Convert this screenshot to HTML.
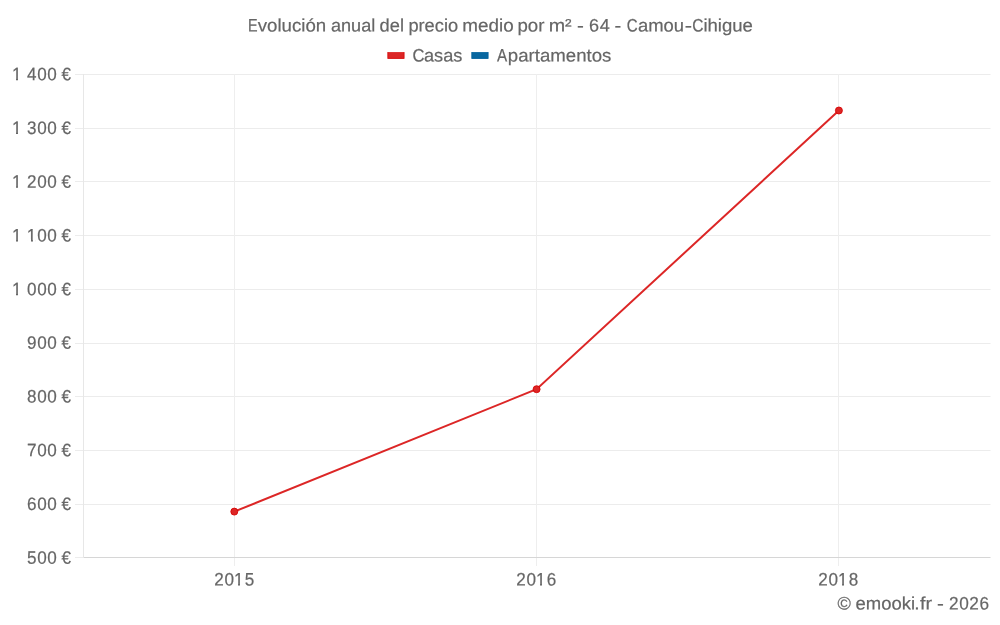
<!DOCTYPE html>
<html lang="es"><head><meta charset="utf-8"><title>Evolución anual del precio medio por m² - 64 - Camou-Cihigue</title>
<style>
html,body{margin:0;padding:0;background:#fff;}
body{width:1000px;height:625px;overflow:hidden;}
svg{display:block;will-change:transform;}
text{font-family:"Liberation Sans",sans-serif;fill:#666;font-size:18px;stroke:#666;stroke-width:0.2px;}
</style></head><body>
<svg width="1000" height="625" viewBox="0 0 1000 625">
<rect x="0" y="0" width="1000" height="625" fill="#fff"/>
<g shape-rendering="crispEdges">
<rect x="75" y="74" width="8" height="1" fill="#ececec"/>
<rect x="83" y="74" width="907" height="1" fill="#ececec"/>
<rect x="990" y="74" width="1" height="1" fill="#f5f5f5"/>
<rect x="75" y="128" width="8" height="1" fill="#ececec"/>
<rect x="83" y="128" width="907" height="1" fill="#ececec"/>
<rect x="990" y="128" width="1" height="1" fill="#f5f5f5"/>
<rect x="75" y="181" width="8" height="1" fill="#ececec"/>
<rect x="83" y="181" width="907" height="1" fill="#ececec"/>
<rect x="990" y="181" width="1" height="1" fill="#f5f5f5"/>
<rect x="75" y="235" width="8" height="1" fill="#ececec"/>
<rect x="83" y="235" width="907" height="1" fill="#ececec"/>
<rect x="990" y="235" width="1" height="1" fill="#f5f5f5"/>
<rect x="75" y="289" width="8" height="1" fill="#ececec"/>
<rect x="83" y="289" width="907" height="1" fill="#ececec"/>
<rect x="990" y="289" width="1" height="1" fill="#f5f5f5"/>
<rect x="75" y="343" width="8" height="1" fill="#ececec"/>
<rect x="83" y="343" width="907" height="1" fill="#ececec"/>
<rect x="990" y="343" width="1" height="1" fill="#f5f5f5"/>
<rect x="75" y="396" width="8" height="1" fill="#ececec"/>
<rect x="83" y="396" width="907" height="1" fill="#ececec"/>
<rect x="990" y="396" width="1" height="1" fill="#f5f5f5"/>
<rect x="75" y="450" width="8" height="1" fill="#ececec"/>
<rect x="83" y="450" width="907" height="1" fill="#ececec"/>
<rect x="990" y="450" width="1" height="1" fill="#f5f5f5"/>
<rect x="75" y="504" width="8" height="1" fill="#ececec"/>
<rect x="83" y="504" width="907" height="1" fill="#ececec"/>
<rect x="990" y="504" width="1" height="1" fill="#f5f5f5"/>
<rect x="75" y="557" width="8" height="1" fill="#ececec"/>
<rect x="83" y="557" width="907" height="1" fill="#d6d6d6"/>
<rect x="990" y="557" width="1" height="1" fill="#eaeaea"/>
<rect x="83" y="74" width="1" height="484" fill="#e7e7e7"/>
<rect x="234" y="74" width="1" height="483" fill="#eeeeee"/>
<rect x="234" y="558" width="1" height="8" fill="#eeeeee"/>
<rect x="536" y="74" width="1" height="483" fill="#eeeeee"/>
<rect x="536" y="558" width="1" height="8" fill="#eeeeee"/>
<rect x="838" y="74" width="1" height="483" fill="#eeeeee"/>
<rect x="838" y="558" width="1" height="8" fill="#eeeeee"/>
</g>
<text y="80.30" rotate="0.05"><tspan x="12.08" textLength="10.11" lengthAdjust="spacingAndGlyphs" letter-spacing="0.63">1</tspan> <tspan x="27.10" textLength="30.33" lengthAdjust="spacingAndGlyphs" letter-spacing="0.63">400</tspan> <tspan x="61.39" textLength="10.11" lengthAdjust="spacingAndGlyphs" letter-spacing="0.63">€</tspan></text>
<text y="134.01" rotate="0.05"><tspan x="12.08" textLength="10.11" lengthAdjust="spacingAndGlyphs" letter-spacing="0.63">1</tspan> <tspan x="27.10" textLength="30.33" lengthAdjust="spacingAndGlyphs" letter-spacing="0.63">300</tspan> <tspan x="61.39" textLength="10.11" lengthAdjust="spacingAndGlyphs" letter-spacing="0.63">€</tspan></text>
<text y="187.72" rotate="0.05"><tspan x="12.08" textLength="10.11" lengthAdjust="spacingAndGlyphs" letter-spacing="0.63">1</tspan> <tspan x="27.10" textLength="30.33" lengthAdjust="spacingAndGlyphs" letter-spacing="0.63">200</tspan> <tspan x="61.39" textLength="10.11" lengthAdjust="spacingAndGlyphs" letter-spacing="0.63">€</tspan></text>
<text y="241.43" rotate="0.05"><tspan x="12.08" textLength="10.11" lengthAdjust="spacingAndGlyphs" letter-spacing="0.63">1</tspan> <tspan x="26.65" textLength="10.11" lengthAdjust="spacingAndGlyphs" letter-spacing="0.63">1</tspan><tspan x="37.21" textLength="20.22" lengthAdjust="spacingAndGlyphs" letter-spacing="0.63">00</tspan> <tspan x="61.39" textLength="10.11" lengthAdjust="spacingAndGlyphs" letter-spacing="0.63">€</tspan></text>
<text y="295.14" rotate="0.05"><tspan x="12.08" textLength="10.11" lengthAdjust="spacingAndGlyphs" letter-spacing="0.63">1</tspan> <tspan x="27.10" textLength="30.33" lengthAdjust="spacingAndGlyphs" letter-spacing="0.63">000</tspan> <tspan x="61.39" textLength="10.11" lengthAdjust="spacingAndGlyphs" letter-spacing="0.63">€</tspan></text>
<text y="348.86" rotate="0.05"><tspan x="27.10" textLength="30.33" lengthAdjust="spacingAndGlyphs" letter-spacing="0.63">900</tspan> <tspan x="61.39" textLength="10.11" lengthAdjust="spacingAndGlyphs" letter-spacing="0.63">€</tspan></text>
<text y="402.57" rotate="0.05"><tspan x="27.10" textLength="30.33" lengthAdjust="spacingAndGlyphs" letter-spacing="0.63">800</tspan> <tspan x="61.39" textLength="10.11" lengthAdjust="spacingAndGlyphs" letter-spacing="0.63">€</tspan></text>
<text y="456.28" rotate="0.05"><tspan x="27.10" textLength="30.33" lengthAdjust="spacingAndGlyphs" letter-spacing="0.63">700</tspan> <tspan x="61.39" textLength="10.11" lengthAdjust="spacingAndGlyphs" letter-spacing="0.63">€</tspan></text>
<text y="509.99" rotate="0.05"><tspan x="27.10" textLength="30.33" lengthAdjust="spacingAndGlyphs" letter-spacing="0.63">600</tspan> <tspan x="61.39" textLength="10.11" lengthAdjust="spacingAndGlyphs" letter-spacing="0.63">€</tspan></text>
<text y="563.70" rotate="0.05"><tspan x="27.10" textLength="30.33" lengthAdjust="spacingAndGlyphs" letter-spacing="0.63">500</tspan> <tspan x="61.39" textLength="10.11" lengthAdjust="spacingAndGlyphs" letter-spacing="0.63">€</tspan></text>
<text y="585.5" rotate="0.05"><tspan x="214.34" textLength="20.22" lengthAdjust="spacingAndGlyphs" letter-spacing="0.63">20</tspan><tspan x="234.11" textLength="10.11" lengthAdjust="spacingAndGlyphs" letter-spacing="0.63">1</tspan><tspan x="244.67" textLength="10.11" lengthAdjust="spacingAndGlyphs" letter-spacing="0.63">5</tspan></text>
<text y="585.5" rotate="0.05"><tspan x="516.34" textLength="20.22" lengthAdjust="spacingAndGlyphs" letter-spacing="0.63">20</tspan><tspan x="536.11" textLength="10.11" lengthAdjust="spacingAndGlyphs" letter-spacing="0.63">1</tspan><tspan x="546.67" textLength="10.11" lengthAdjust="spacingAndGlyphs" letter-spacing="0.63">6</tspan></text>
<text y="585.5" rotate="0.05"><tspan x="818.34" textLength="20.22" lengthAdjust="spacingAndGlyphs" letter-spacing="0.63">20</tspan><tspan x="838.11" textLength="10.11" lengthAdjust="spacingAndGlyphs" letter-spacing="0.63">1</tspan><tspan x="848.67" textLength="10.11" lengthAdjust="spacingAndGlyphs" letter-spacing="0.63">8</tspan></text>
<text y="31.5" rotate="0.05"><tspan x="248.05" textLength="9.60" lengthAdjust="spacingAndGlyphs">E</tspan><tspan x="257.72" textLength="68.51" lengthAdjust="spacingAndGlyphs">volución</tspan> <tspan x="330.94" textLength="44.29" lengthAdjust="spacingAndGlyphs">anual</tspan> <tspan x="379.64" textLength="24.37" lengthAdjust="spacingAndGlyphs">del</tspan> <tspan x="408.40" textLength="49.73" lengthAdjust="spacingAndGlyphs">precio</tspan> <tspan x="462.29" textLength="51.40" lengthAdjust="spacingAndGlyphs">medio</tspan> <tspan x="517.45" textLength="26.97" lengthAdjust="spacingAndGlyphs">por</tspan> <tspan x="548.65" textLength="22.96" lengthAdjust="spacingAndGlyphs">m²</tspan> <tspan x="576.97" textLength="6.88" lengthAdjust="spacingAndGlyphs">-</tspan> <tspan x="589.00" textLength="21.37" lengthAdjust="spacingAndGlyphs" letter-spacing="0.63">64</tspan> <tspan x="614.61" textLength="6.71" lengthAdjust="spacingAndGlyphs">-</tspan> <tspan x="626.73" textLength="10.91" lengthAdjust="spacingAndGlyphs">C</tspan><tspan x="638.00" textLength="46.09" lengthAdjust="spacingAndGlyphs">amou</tspan><tspan x="684.72" textLength="7.32" lengthAdjust="spacingAndGlyphs">-</tspan><tspan x="692.30" textLength="11.22" lengthAdjust="spacingAndGlyphs">C</tspan><tspan x="703.42" textLength="49.52" lengthAdjust="spacingAndGlyphs">ihigue</tspan></text>
<text y="61.6" rotate="0.05"><tspan x="412.40" textLength="11.97" lengthAdjust="spacingAndGlyphs">C</tspan><tspan x="424.01" textLength="38.45" lengthAdjust="spacingAndGlyphs">asas</tspan></text>
<text y="61.6" rotate="0.05"><tspan x="497.00" textLength="10.20" lengthAdjust="spacingAndGlyphs">A</tspan><tspan x="507.86" textLength="103.47" lengthAdjust="spacingAndGlyphs">partamentos</tspan></text>
<text y="609.6" rotate="0.05"><tspan x="837.45" textLength="13.34" lengthAdjust="spacingAndGlyphs">©</tspan> <tspan x="855.55" textLength="59.60" lengthAdjust="spacingAndGlyphs">emooki</tspan><tspan x="914.34" textLength="5.37" lengthAdjust="spacingAndGlyphs">.</tspan><tspan x="919.91" textLength="12.05" lengthAdjust="spacingAndGlyphs">fr</tspan> <tspan x="936.97" textLength="6.88" lengthAdjust="spacingAndGlyphs">-</tspan> <tspan x="949.00" textLength="40.70" lengthAdjust="spacingAndGlyphs" letter-spacing="0.63">2026</tspan></text>
<rect x="12.58" y="78" width="3.42" height="3" fill="#fff"/>
<rect x="18" y="78" width="3.28" height="3" fill="#fff"/>
<rect x="12.58" y="132" width="3.42" height="3" fill="#fff"/>
<rect x="18" y="132" width="3.28" height="3" fill="#fff"/>
<rect x="12.58" y="186" width="3.42" height="3" fill="#fff"/>
<rect x="18" y="186" width="3.28" height="3" fill="#fff"/>
<rect x="12.58" y="239" width="3.42" height="3" fill="#fff"/>
<rect x="18" y="239" width="3.28" height="3" fill="#fff"/>
<rect x="27.15" y="239" width="3.85" height="3" fill="#fff"/>
<rect x="33" y="239" width="2.85" height="3" fill="#fff"/>
<rect x="12.58" y="293" width="3.42" height="3" fill="#fff"/>
<rect x="18" y="293" width="3.28" height="3" fill="#fff"/>
<rect x="234.61" y="584" width="3.39" height="3" fill="#fff"/>
<rect x="240" y="584" width="3.31" height="3" fill="#fff"/>
<rect x="536.61" y="584" width="3.39" height="3" fill="#fff"/>
<rect x="542" y="584" width="3.31" height="3" fill="#fff"/>
<rect x="838.61" y="584" width="3.39" height="3" fill="#fff"/>
<rect x="844" y="584" width="3.31" height="3" fill="#fff"/>
<rect x="387.55" y="52.08" width="16.8" height="6.65" fill="rgba(214,0,0,0.85)"/>
<rect x="387.55" y="57.9" width="16.8" height="0.83" fill="rgba(214,0,0,0.85)"/>
<rect x="387.55" y="52.08" width="0.7" height="5.82" fill="rgba(214,0,0,0.85)"/>
<rect x="403.65" y="52.08" width="0.7" height="5.82" fill="rgba(214,0,0,0.85)"/>
<rect x="471.55" y="52.08" width="16.8" height="6.65" fill="rgba(0,98,157,0.97)"/>
<rect x="471.55" y="57.9" width="16.8" height="0.83" fill="rgba(0,98,157,0.97)"/>
<rect x="471.55" y="52.08" width="0.7" height="5.82" fill="rgba(0,98,157,0.97)"/>
<rect x="487.65" y="52.08" width="0.7" height="5.82" fill="rgba(0,98,157,0.97)"/>
<polyline points="234.3,511.6 536.6,389.2 838.9,110.5" fill="none" stroke="rgba(214,0,0,0.85)" stroke-width="2" stroke-linejoin="miter"/>
<circle cx="234.3" cy="511.6" r="3.5" fill="#dc2626" stroke="rgba(214,0,0,0.85)" stroke-width="1"/>
<circle cx="536.6" cy="389.2" r="3.5" fill="#dc2626" stroke="rgba(214,0,0,0.85)" stroke-width="1"/>
<circle cx="838.9" cy="110.5" r="3.5" fill="#dc2626" stroke="rgba(214,0,0,0.85)" stroke-width="1"/>
</svg></body></html>
